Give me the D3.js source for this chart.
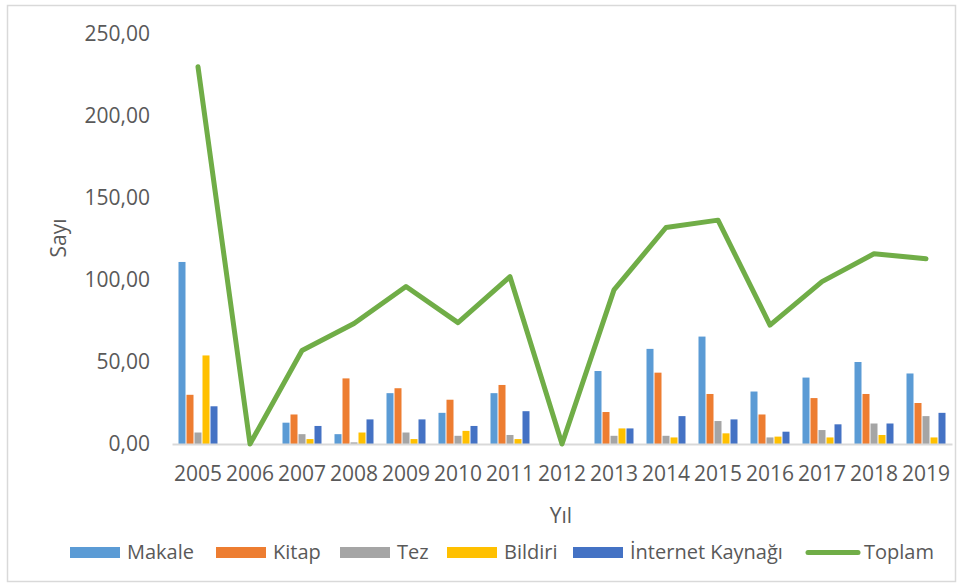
<!DOCTYPE html>
<html>
<head>
<meta charset="utf-8">
<script src="https://cdn.jsdelivr.net/npm/d3@7"></script>
<style>
  body { margin: 0; background: #fff; }
  text { font-family: "Open Sans", sans-serif; fill: #595959; }
</style>
</head>
<body>
<script>
const years = ["2005","2006","2007","2008","2009","2010","2011","2012","2013","2014","2015","2016","2017","2018","2019"]
const makale = [111, 0, 13, 6, 31, 19, 31, 0, 44.5, 58, 65.5, 32, 40.5, 50, 43]
const kitap = [30, 0, 18, 40, 34, 27, 36, 0, 19.5, 43.5, 30.5, 18, 28, 30.5, 25]
const tez = [7, 0, 6, 1, 7, 5, 5.5, 0, 5, 5, 14, 4, 8.5, 12.5, 17]
const bildiri = [54, 0, 3, 7, 3, 8, 3, 0, 9.5, 4, 6.5, 4.5, 4, 5.5, 4]
const internet = [23, 0, 11, 15, 15, 11, 20, 0, 9.5, 17, 15, 7.5, 12, 12.5, 19]
const toplam = [230, 0, 57, 73.5, 96, 74, 102, 0, 94, 132, 136.5, 72.5, 99, 116, 113]
const yTicks = [0, 50, 100, 150, 200, 250]

const seriesNames = ["Makale", "Kitap", "Tez", "Bildiri", "İnternet Kaynağı"]
const seriesData = [makale, kitap, tez, bildiri, internet]
const colors = ["#5B9BD5", "#ED7D31", "#A5A5A5", "#FFC000", "#4472C4"]
const lineColor = "#70AD47"

const w = 958, h = 584
const svg = d3.select("body").append("svg").attr("width", w).attr("height", h)

svg.append("rect")
  .attr("x", 7.5).attr("y", 5.5).attr("width", 948).attr("height", 576)
  .attr("fill", "#fff").attr("stroke", "#D9D9D9").attr("stroke-width", 1.5)

const x = d3.scaleBand().domain(years).range([172, 952])
const inner = d3.scaleBand().domain(d3.range(5)).range([-20, 20])
const y = d3.scaleLinear().domain([0, 250]).range([444, 34])

const locale = d3.formatLocale({ decimal: ",", thousands: ".", grouping: [3], currency: ["", ""] })
const fmt = locale.format(".2f")

// y axis labels
const yAxis = svg.append("g").attr("transform", "translate(150,0)")
  .call(d3.axisLeft(y).tickValues(yTicks).tickFormat(fmt).tickSize(0).tickPadding(0))
yAxis.select(".domain").remove()
yAxis.selectAll("text").style("font-size", "21px").attr("fill", "#595959")

// bars
seriesData.forEach((vals, i) => {
  svg.append("g").selectAll("rect")
    .data(vals)
    .join("rect")
    .attr("x", (d, j) => x(years[j]) + x.bandwidth() / 2 + inner(i) + 0.5)
    .attr("width", inner.bandwidth() - 1)
    .attr("y", (d) => y(d))
    .attr("height", (d) => y(0) - y(d))
    .attr("fill", colors[i])
})

// x axis
const xAxis = svg.append("g").attr("transform", "translate(0,444)")
  .call(d3.axisBottom(x).tickSize(0).tickPadding(0))
xAxis.select(".domain").attr("stroke", "#D9D9D9").attr("stroke-width", 2)
xAxis.selectAll("text").style("font-size", "21px").attr("fill", "#595959").attr("y", 22).attr("dy", "0.71em")

// toplam line
const line = d3.line()
  .x((d, j) => x(years[j]) + x.bandwidth() / 2)
  .y((d) => y(d))
svg.append("path")
  .datum(toplam)
  .attr("d", line)
  .attr("fill", "none")
  .attr("stroke", lineColor)
  .attr("stroke-width", 5)
  .attr("stroke-linejoin", "round")
  .attr("stroke-linecap", "round")

// axis titles
svg.append("text")
  .attr("transform", "translate(66,238) rotate(-90)")
  .attr("text-anchor", "middle")
  .style("font-size", "21px")
  .text("Sayı")
svg.append("text")
  .attr("x", 561).attr("y", 523)
  .attr("text-anchor", "middle")
  .style("font-size", "21px")
  .text("Yıl")

// legend
const legendX = [70, 216, 340, 447, 573]
seriesNames.forEach((name, i) => {
  svg.append("rect").attr("x", legendX[i]).attr("y", 547).attr("width", 50).attr("height", 11).attr("fill", colors[i])
  svg.append("text").attr("x", legendX[i] + 57).attr("y", 559).style("font-size", "20px").text(name)
})
svg.append("line").attr("x1", 808).attr("x2", 858).attr("y1", 552.5).attr("y2", 552.5)
  .attr("stroke", lineColor).attr("stroke-width", 5).attr("stroke-linecap", "round")
svg.append("text").attr("x", 864).attr("y", 559).style("font-size", "20px").text("Toplam")
</script>
</body>
</html>
